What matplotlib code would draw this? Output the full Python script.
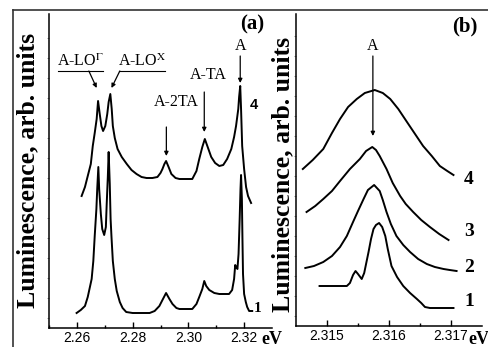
import numpy as np
import matplotlib
matplotlib.use("Agg")
import matplotlib.pyplot as plt
from matplotlib.lines import Line2D

plt.rcParams['mathtext.fontset'] = 'stix'

# ---------------- data: panel (a) ----------------
a4_e = [2.2617, 2.2629, 2.2639, 2.2650, 2.2657, 2.2664, 2.2671, 2.2676, 2.2682, 2.2688,
        2.2694, 2.2702, 2.2709, 2.2714, 2.2720, 2.2725, 2.2729, 2.2736, 2.2746, 2.2761,
        2.2779, 2.2796, 2.2814, 2.2832, 2.2850, 2.2871, 2.2889, 2.2900, 2.2907, 2.2914,
        2.2920, 2.2929, 2.2939, 2.2954, 2.2968, 2.3014, 2.3029, 2.3039, 2.3050, 2.3059,
        2.3068, 2.3082, 2.3096, 2.3111, 2.3125, 2.3139, 2.3154, 2.3164, 2.3171, 2.3179,
        2.3182, 2.3186, 2.3189, 2.3193, 2.3200, 2.3207, 2.3214, 2.3225]
a4_i = [132, 141, 152, 164, 182, 195, 209, 227, 214, 202,
        197, 202, 214, 226, 234, 219, 202, 190, 179, 171,
        164, 158, 154, 151, 150, 150, 151, 155, 159, 164,
        167, 161, 154, 150, 149, 149, 157, 169, 181, 189,
        182, 171, 165, 162, 163, 169, 179, 191, 202, 219,
        231, 242, 219, 182, 159, 141, 132, 125]

a1_e = [2.2599, 2.2614, 2.2629, 2.2639, 2.2653, 2.2659, 2.2664, 2.2670, 2.2673, 2.2677,
        2.2680, 2.2686, 2.2691, 2.2698, 2.2704, 2.2707, 2.2711, 2.2714, 2.2718, 2.2721,
        2.2724, 2.2729, 2.2736, 2.2743, 2.2754, 2.2764, 2.2777, 2.2800, 2.2861, 2.2879,
        2.2896, 2.2907, 2.2920, 2.2932, 2.2943, 2.2957, 2.2968, 2.3014, 2.3029, 2.3039,
        2.3050, 2.3057, 2.3064, 2.3075, 2.3093, 2.3111, 2.3146, 2.3157, 2.3164, 2.3168,
        2.3171, 2.3176, 2.3180, 2.3184, 2.3187, 2.3189, 2.3192, 2.3194, 2.3196, 2.3200,
        2.3206, 2.3211, 2.3218, 2.3229]
a1_i = [15, 18, 22, 31, 49, 67, 92, 119, 139, 161,
        139, 114, 99, 93, 101, 124, 151, 176, 144, 109,
        92, 67, 49, 37, 26, 20, 16, 15, 15, 17,
        22, 28, 35, 29, 24, 20, 19, 19, 24, 31,
        39, 47, 42, 38, 35, 34, 34, 38, 49, 63,
        61, 59, 74, 109, 139, 153, 129, 89, 54, 34,
        26, 21, 17, 17]

# ---------------- data: panel (b) ----------------
b4_e = [2.31461, 2.31477, 2.31494, 2.31508, 2.31521, 2.31534, 2.31548, 2.31561, 2.31577, 2.31590,
        2.31602, 2.31615, 2.31629, 2.31642, 2.31655, 2.31669, 2.31682, 2.31694, 2.31704]
b4_i = [157, 166, 177, 193, 207, 219, 227, 233, 236, 233,
        227, 217, 204, 192, 180, 170, 160, 155, 151]

b3_e = [2.31467, 2.31481, 2.31494, 2.31508, 2.31521, 2.31537, 2.31545, 2.31553, 2.31563, 2.31573,
        2.31579, 2.31585, 2.31596, 2.31606, 2.31618, 2.31627, 2.31639, 2.31652, 2.31666, 2.31681,
        2.31696]
b3_i = [114, 120, 127, 135, 145, 157, 162, 167, 175, 179,
        176, 170, 157, 143, 130, 122, 114, 106, 99, 92,
        86]

b2_e = [2.31465, 2.31479, 2.31494, 2.31508, 2.31521, 2.31532, 2.31542, 2.31550, 2.31559, 2.31566,
        2.31576, 2.31585, 2.31590, 2.31596, 2.31603, 2.31612, 2.31623, 2.31634, 2.31647, 2.31661,
        2.31674, 2.31688, 2.31698, 2.31709]
b2_i = [58, 60, 64, 70, 79, 90, 104, 115, 127, 136,
        141, 135, 126, 114, 102, 90, 81, 74, 67, 62,
        59, 57, 56, 55]

b1_e = [2.31488, 2.31532, 2.31537, 2.31542, 2.31546, 2.31550, 2.31556, 2.31560, 2.31563, 2.31567,
        2.31571, 2.31575, 2.31579, 2.31584, 2.31589, 2.31594, 2.31598, 2.31604, 2.31613, 2.31623,
        2.31634, 2.31645, 2.31652, 2.31658, 2.31666, 2.31704]
b1_i = [40, 40, 43, 51, 55, 52, 47, 53, 62, 74,
        87, 97, 101, 103, 99, 90, 77, 60, 49, 40,
        33, 27, 23, 19, 18, 18]

a_xticks = [2.26, 2.28, 2.30, 2.32]
a_xticklabels = ["2.26", "2.28", "2.30", "2.32"]
b_xticks = [2.315, 2.316, 2.317]
b_xticklabels = ["2.315", "2.316", "2.317"]

ylabel = "Luminescence, arb. units"

SERIF = "Liberation Serif"
SANS = "Liberation Sans"

fig = plt.figure(figsize=(4.89, 3.47), dpi=100)

W, H = 489.0, 347.0
axa = fig.add_axes([49 / W, 1 - 328 / H, (272 - 49) / W, (328 - 14) / H])
axb = fig.add_axes([296 / W, 1 - 326 / H, (482 - 296) / W, (326 - 14) / H])

lw = 1.4
axa.plot(a4_e, a4_i, color='black', lw=lw, solid_joinstyle='round')
axa.plot(a1_e, a1_i, color='black', lw=lw, solid_joinstyle='round')
axb.plot(b4_e, b4_i, color='black', lw=lw)
axb.plot(b3_e, b3_i, color='black', lw=lw)
axb.plot(b2_e, b2_i, color='black', lw=lw)
axb.plot(b1_e, b1_i, color='black', lw=lw)

axa.set_xlim(2.25, 2.33)
axa.set_ylim(0, 314)
axb.set_xlim(2.3145, 2.3175)
axb.set_ylim(0, 312)

for ax, ticks, labels in ((axa, a_xticks, a_xticklabels), (axb, b_xticks, b_xticklabels)):
    for s in ('top', 'right'):
        ax.spines[s].set_visible(False)
    for s in ('left', 'bottom'):
        ax.spines[s].set_linewidth(1.1)
    ax.set_xticks(ticks)
    ax.set_xticklabels(labels, fontfamily=SANS, fontsize=10)
    ax.tick_params(axis='x', which='major', direction='in', length=4, width=1, pad=2.5)
    ax.tick_params(axis='x', which='minor', direction='in', length=2.5, width=1)
    ax.set_yticks(np.arange(10, 310, 20))
    ax.set_yticklabels([])
    ax.tick_params(axis='y', which='major', direction='out', length=1.2, width=0.5,
                   color='#666666')

axa.set_xticks([2.25 + 0.02 * k for k in range(4)], minor=True)
axb.set_xticks([2.3155, 2.3165], minor=True)

# y labels
fig.text(28 / W, 1 - 170 / H, ylabel, rotation=90, ha='center', va='center',
         fontfamily=SERIF, fontweight='bold', fontsize=18.5)
fig.text(283 / W, 1 - 174 / H, ylabel, rotation=90, ha='center', va='center',
         fontfamily=SERIF, fontweight='bold', fontsize=18.5)

# eV labels
fig.text(272 / W, 1 - 339 / H, "eV", ha='center', va='center',
         fontfamily=SERIF, fontweight='bold', fontsize=13)
fig.text(479 / W, 1 - 339 / H, "eV", ha='center', va='center',
         fontfamily=SERIF, fontweight='bold', fontsize=13)

# panel tags
axa.text(2.3229, 304, "(a)", ha='center', va='center', fontfamily=SERIF,
         fontweight='bold', fontsize=15, clip_on=False)
axb.text(2.31723, 300, "(b)", ha='center', va='center', fontfamily=SERIF,
         fontweight='bold', fontsize=15, clip_on=False)

# curve numbers
axa.text(2.3236, 223, "4", ha='center', va='center', fontfamily=SANS,
         fontweight='bold', fontsize=10.5, clip_on=False)
axa.text(2.3250, 20, "1", ha='center', va='center', fontfamily=SERIF,
         fontweight='bold', fontsize=11, clip_on=False)
for lab, yv in (("4", 147), ("3", 95), ("2", 58), ("1", 24)):
    axb.text(2.31729, yv, lab, ha='center', va='center', fontfamily=SERIF,
             fontweight='bold', fontsize=14, clip_on=False)

# annotations panel (a)
afs = 11.5
arrow = dict(arrowstyle='-|>', color='black', lw=0.9, mutation_scale=6, shrinkA=0, shrinkB=0)
tLG = axa.text(2.2612, 266, r"A-LO$^{\Gamma}$", ha='center', va='center',
               fontfamily=SERIF, fontsize=afs)
tLX = axa.text(2.2833, 266, r"A-LO$^{\mathrm{X}}$", ha='center', va='center',
               fontfamily=SERIF, fontsize=afs)
axa.annotate("", xy=(2.2671, 240), xytext=(2.2643, 257), arrowprops=arrow)
axa.annotate("", xy=(2.2724, 240), xytext=(2.2754, 257), arrowprops=arrow)
axa.text(2.2957, 226, "A-2TA", ha='center', va='center', fontfamily=SERIF, fontsize=afs)
axa.annotate("", xy=(2.2921, 172), xytext=(2.2921, 201), arrowprops=arrow)
axa.text(2.3071, 253, "A-TA", ha='center', va='center', fontfamily=SERIF, fontsize=afs)
axa.annotate("", xy=(2.3057, 196), xytext=(2.3057, 236), arrowprops=arrow)
axa.text(2.3186, 282, "A", ha='center', va='center', fontfamily=SERIF, fontsize=afs)
axa.annotate("", xy=(2.3186, 245), xytext=(2.3186, 272), arrowprops=arrow)

# annotation panel (b)
axb.text(2.31574, 280, "A", ha='center', va='center', fontfamily=SERIF, fontsize=afs)
axb.annotate("", xy=(2.31574, 190), xytext=(2.31574, 270), arrowprops=arrow)

# figure frame (top and left border lines)
fig.add_artist(Line2D([13 / W, 1.0], [1 - 10 / H, 1 - 10 / H], color='#333333', lw=1.2))
fig.add_artist(Line2D([13 / W, 13 / W], [0.0, 1 - 10 / H], color='#333333', lw=1.2))

# underline the LO labels
fig.canvas.draw()
r = fig.canvas.get_renderer()
for t in (tLG, tLX):
    bb = t.get_window_extent(renderer=r)
    y0 = bb.y0 - 0.5
    fig.add_artist(Line2D([(bb.x0 + 1) / W, (bb.x1 - 1) / W], [y0 / H, y0 / H],
                          color='black', lw=0.8))

fig.savefig("out.png", dpi=100)
